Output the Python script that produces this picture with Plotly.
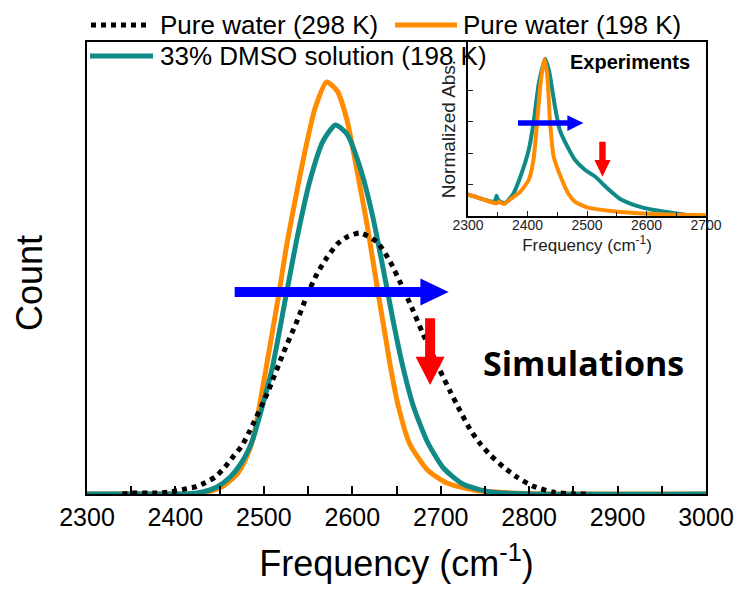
import plotly.graph_objects as go

# ---------------- data ----------------
# Main panel (simulations), counts in arbitrary units
w298_freq = [2340, 2351, 2379, 2394, 2411, 2422, 2433, 2445, 2456, 2465, 2475, 2484, 2504, 2522,
             2538, 2549, 2560, 2571, 2583, 2594, 2609, 2628, 2643, 2654, 2668, 2680, 2699, 2711,
             2722, 2733, 2744, 2756, 2771, 2786, 2804, 2827, 2850, 2870]
w298_count = [0.0, 0.01, 0.01, 0.02, 0.05, 0.07, 0.11, 0.17, 0.27, 0.37, 0.48, 0.63, 1.01, 1.41,
              1.74, 1.99, 2.2, 2.36, 2.5, 2.57, 2.61, 2.52, 2.32, 2.12, 1.85, 1.6, 1.24, 1.02,
              0.83, 0.65, 0.51, 0.39, 0.27, 0.17, 0.08, 0.02, 0.0, 0.0]

w198_freq = [2300, 2380, 2420, 2436, 2454, 2470, 2481, 2488, 2501, 2517, 2526, 2539, 2549, 2558,
             2571, 2583, 2594, 2605, 2617, 2629, 2637, 2643, 2652, 2665, 2685, 2707, 2737, 2782,
             2835, 3000]
w198_count = [0.0, 0.0, 0.0, 0.02, 0.08, 0.2, 0.38, 0.56, 1.18, 2.0, 2.5, 3.1, 3.53, 3.86,
              4.12, 4.03, 3.74, 3.25, 2.68, 2.02, 1.6, 1.28, 0.88, 0.5, 0.24, 0.11, 0.04, 0.01,
              0.0, 0.0]

dmso_freq = [2300, 2400, 2413, 2431, 2447, 2462, 2473, 2482, 2488, 2509, 2525, 2538, 2552, 2567,
             2581, 2594, 2609, 2623, 2640, 2646, 2657, 2669, 2685, 2703, 2725, 2756, 2800, 3000]
dmso_count = [0.0, 0.0, 0.0, 0.02, 0.07, 0.17, 0.29, 0.43, 0.56, 1.24, 1.98, 2.58, 3.13, 3.53,
              3.69, 3.6, 3.26, 2.78, 2.02, 1.74, 1.28, 0.88, 0.52, 0.26, 0.1, 0.02, 0.0, 0.0]

# Inset panel (experiments), normalized absorbance
exp_w_freq = [2300, 2320, 2337, 2348, 2352, 2360, 2371, 2388, 2402, 2410, 2416, 2422, 2428, 2433,
              2438, 2444, 2458, 2469, 2480, 2500, 2545, 2602, 2650, 2700]
exp_w_abs = [0.138, 0.113, 0.091, 0.081, 0.09, 0.076, 0.106, 0.155, 0.229, 0.357, 0.59, 0.845,
             1.0, 0.91, 0.59, 0.378, 0.229, 0.14, 0.09, 0.055, 0.03, 0.014, 0.008, 0.004]

exp_d_freq = [2300, 2320, 2340, 2346, 2348, 2351, 2356, 2362, 2376, 2388, 2402, 2410, 2419, 2430,
              2437, 2446, 2454, 2466, 2480, 2497, 2514, 2536, 2555, 2581, 2610, 2647, 2675, 2700]
exp_d_abs = [0.138, 0.113, 0.091, 0.10, 0.129, 0.10, 0.088, 0.081, 0.14, 0.25, 0.42, 0.59, 0.845,
             1.0, 0.91, 0.70, 0.55, 0.45, 0.357, 0.293, 0.25, 0.17, 0.11, 0.068, 0.04, 0.018,
             0.004, 0.0]

legend_labels = ["Pure water (298 K)", "Pure water (198 K)", "33% DMSO solution (198 K)"]
main_ticks = [2300, 2400, 2500, 2600, 2700, 2800, 2900, 3000]
inset_ticks = [2300, 2400, 2500, 2600, 2700]

# ---------------- styling ----------------
ORANGE = "#FF8C00"
TEAL = "#108A86"
BLUE = "#0000FF"
RED = "#FF0000"
FONT = "Liberation Sans, Arial, sans-serif"
DOTS = "5px,5px"

fig = go.Figure()

fig.add_trace(go.Scatter(x=w198_freq, y=w198_count, mode="lines", name=legend_labels[1],
                         line=dict(color=ORANGE, width=5, shape="spline", smoothing=0.6),
                         showlegend=False, xaxis="x", yaxis="y"))
fig.add_trace(go.Scatter(x=dmso_freq, y=dmso_count, mode="lines", name=legend_labels[2],
                         line=dict(color=TEAL, width=5, shape="spline", smoothing=0.6),
                         showlegend=False, xaxis="x", yaxis="y"))
fig.add_trace(go.Scatter(x=w298_freq, y=w298_count, mode="lines", name=legend_labels[0],
                         line=dict(color="black", width=5, dash=DOTS, shape="spline", smoothing=0.6),
                         showlegend=False, xaxis="x", yaxis="y"))

# inset
fig.add_trace(go.Scatter(x=exp_d_freq, y=exp_d_abs, mode="lines",
                         line=dict(color=TEAL, width=4, shape="spline", smoothing=0.5),
                         showlegend=False, xaxis="x2", yaxis="y2"))
fig.add_trace(go.Scatter(x=exp_w_freq, y=exp_w_abs, mode="lines",
                         line=dict(color=ORANGE, width=4, shape="spline", smoothing=0.5),
                         showlegend=False, xaxis="x2", yaxis="y2"))

# page body adds an 8px offset, so the figure is drawn 8px smaller
OFF = 8
L, R, T, B = 87, 38, 42, 110
W, H = 744, 604
PW, PH = W - L - R, H - T - B


def px(xp):
    return (xp - L) / PW


def py(yp):
    return (H - B - yp) / PH


shapes = []


def harrow(xref, yref, x0, xb, xt, y, hs, hh, color):
    path = (f"M {x0},{y-hs} L {xb},{y-hs} L {xb},{y-hh} L {xt},{y} L {xb},{y+hh} "
            f"L {xb},{y+hs} L {x0},{y+hs} Z")
    shapes.append(dict(type="path", path=path, xref=xref, yref=yref,
                       fillcolor=color, line=dict(width=0), layer="above"))


def varrow(xref, yref, x, ys, yb, yt, ws, wh, color):
    path = (f"M {x-ws},{ys} L {x+ws},{ys} L {x+ws},{yb} L {x+wh},{yb} L {x},{yt} "
            f"L {x-wh},{yb} L {x-ws},{yb} Z")
    shapes.append(dict(type="path", path=path, xref=xref, yref=yref,
                       fillcolor=color, line=dict(width=0), layer="above"))


harrow("x", "y", 2467, 2677, 2709, 2.02, 0.05, 0.135, BLUE)
varrow("x", "y", 2688, 1.757, 1.373, 1.09, 5.65, 16.4, RED)
harrow("x2", "y2", 2384, 2467, 2494, 0.592, 0.018, 0.05, BLUE)
varrow("x2", "y2", 2526, 0.473, 0.357, 0.25, 5.4, 13.5, RED)

# manual legend
shapes.append(dict(type="line", xref="paper", yref="paper", x0=px(91), x1=px(147),
                   y0=py(25), y1=py(25), line=dict(color="black", width=5, dash=DOTS)))
shapes.append(dict(type="line", xref="paper", yref="paper", x0=px(395), x1=px(457),
                   y0=py(25), y1=py(25), line=dict(color=ORANGE, width=5)))
shapes.append(dict(type="line", xref="paper", yref="paper", x0=px(90), x1=px(153),
                   y0=py(56), y1=py(56), line=dict(color=TEAL, width=5)))

annotations = [
    dict(text=legend_labels[0], x=px(158), y=py(25), xref="paper", yref="paper",
         xanchor="left", yanchor="middle", showarrow=False, font=dict(size=26, family=FONT, color="black")),
    dict(text=legend_labels[1], x=px(461), y=py(25), xref="paper", yref="paper",
         xanchor="left", yanchor="middle", showarrow=False, font=dict(size=26, family=FONT, color="black")),
    dict(text=legend_labels[2], x=px(158), y=py(56), xref="paper", yref="paper",
         xanchor="left", yanchor="middle", showarrow=False, font=dict(size=26, family=FONT, color="black")),
    dict(text="Count", x=px(29), y=py(283), xref="paper", yref="paper", textangle=-90,
         xanchor="center", yanchor="middle", showarrow=False, borderpad=0,
         font=dict(size=36, family=FONT, color="black")),
    dict(text="<b>Simulations</b>", x=px(583), y=py(363), xref="paper", yref="paper",
         xanchor="center", yanchor="middle", showarrow=False,
         font=dict(size=34, family="Open Sans, sans-serif", color="black")),
    dict(text="<b>Experiments</b>", x=px(630), y=py(62), xref="paper", yref="paper",
         xanchor="center", yanchor="middle", showarrow=False,
         font=dict(size=20, family=FONT, color="black")),
]

fig.update_layout(
    template="none",
    width=W - OFF, height=H - OFF,
    margin=dict(l=L - OFF, r=R, t=T - OFF, b=B, pad=0),
    paper_bgcolor="white", plot_bgcolor="rgba(0,0,0,0)",
    font=dict(family=FONT, color="black"),
    showlegend=False,
    shapes=shapes,
    annotations=annotations,
    xaxis=dict(domain=[0, 1], range=[2300, 3000], tickvals=main_ticks, ticks="inside", ticklen=8,
               tickwidth=1.5, tickcolor="black",
               minor=dict(dtick=50, tick0=2300, ticks="inside", ticklen=8, tickwidth=1.5, tickcolor="black"),
               showline=True, linewidth=2, linecolor="black", mirror=True, showgrid=False, zeroline=False,
               tickfont=dict(size=25, family=FONT, color="black"),
               title=dict(text="Frequency (cm<sup>-1</sup>)", font=dict(size=36, family=FONT, color="black"),
                          standoff=21),
               automargin=False, anchor="y"),
    yaxis=dict(domain=[0, 1], range=[0, 4.52], showticklabels=False, ticks="",
               showline=True, linewidth=2, linecolor="black", mirror=True, showgrid=False, zeroline=False,
               automargin=False, anchor="x"),
    xaxis2=dict(domain=[px(468), 1], range=[2300, 2700], tickvals=inset_ticks, ticks="inside", ticklen=5,
                tickwidth=1, tickcolor="#222", ticklabelstandoff=-5,
                minor=dict(dtick=50, tick0=2300, ticks="inside", ticklen=4, tickwidth=1, tickcolor="#222"),
                showline=True, linewidth=1.8, linecolor="black", mirror=False, showgrid=False, zeroline=False,
                tickfont=dict(size=14, family=FONT, color="#222"),
                title=dict(text="Frequency (cm<sup>-1</sup>)", font=dict(size=17, family=FONT, color="#222"),
                           standoff=2),
                automargin=False, anchor="y2"),
    yaxis2=dict(domain=[py(216), 1], range=[0, 1.108], dtick=0.2, tick0=0, showticklabels=False,
                ticks="inside", ticklen=5, tickwidth=1, tickcolor="#222",
                showline=True, linewidth=1.8, linecolor="black", mirror=False, showgrid=False, zeroline=False,
                title=dict(text="Normalized Abs.", font=dict(size=19, family=FONT, color="#222"), standoff=5),
                automargin=False, anchor="x2"),
)

fig.write_html("out.html")
